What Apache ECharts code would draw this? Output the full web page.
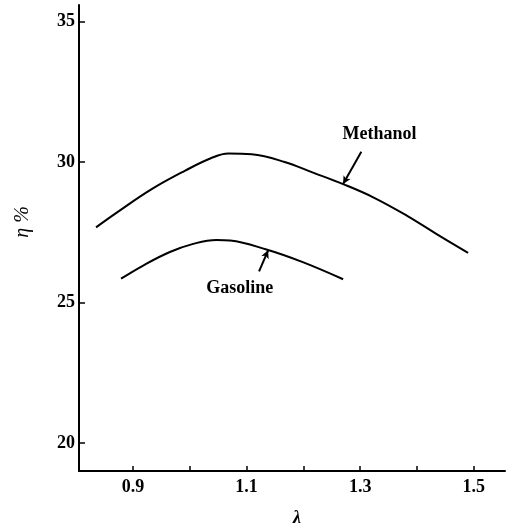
<!DOCTYPE html>
<html>
<head>
<meta charset="utf-8">
<script src="https://cdn.jsdelivr.net/npm/echarts@6/dist/echarts.min.js"></script>
<style>
html,body{margin:0;padding:0;background:#fff;}
#c{width:512px;height:532px;}
</style>
</head>
<body>
<div id="c"></div>
<script>
// Data
const methanolX = [0.835, 0.874, 0.933, 0.992, 1.038, 1.068, 1.109, 1.167, 1.217, 1.270, 1.323, 1.382, 1.434, 1.490];
const methanolY = [27.68, 28.24, 29.04, 29.70, 30.15, 30.31, 30.28, 30.01, 29.63, 29.22, 28.75, 28.10, 27.45, 26.77];
const gasolineX = [0.879, 0.918, 0.965, 1.006, 1.047, 1.071, 1.135, 1.199, 1.270];
const gasolineY = [25.85, 26.32, 26.80, 27.09, 27.23, 27.21, 26.89, 26.44, 25.83];
const xTicks = [0.9, 1.0, 1.1, 1.2, 1.3, 1.4, 1.5];
const xTickLabels = [0.9, 1.1, 1.3, 1.5];
const yTicks = [20, 25, 30, 35];
const yTickLabels = [20, 25, 30, 35];
const seriesNames = ['Methanol', 'Gasoline'];
// annotation anchors (data coordinates): text position, arrow start, arrow end on curve
const methanolNote = { text: [1.334, 31.0], from: [1.302, 30.37], to: [1.270, 29.22] };
const gasolineNote = { text: [1.088, 25.50], from: [1.122, 26.11], to: [1.138, 26.86] };

const zip = (xs, ys) => xs.map((x, i) => [x, ys[i]]);
const serif = '"Liberation Serif", "DejaVu Serif", serif';

function noteSeries(name, xs, ys, note) {
  return {
    name: name,
    type: 'line',
    data: zip(xs, ys),
    smooth: 0.4,
    showSymbol: false,
    symbol: 'none',
    lineStyle: { color: '#000', width: 2 },
    markLine: {
      silent: true,
      symbol: ['none', 'arrow'],
      symbolSize: [6, 8],
      label: { show: false },
      lineStyle: { color: '#000', width: 2, type: 'solid' },
      data: [[{ coord: note.from }, { coord: note.to }]]
    },
    markPoint: {
      silent: true,
      symbol: 'circle',
      symbolSize: 1,
      itemStyle: { color: 'rgba(0,0,0,0)' },
      label: {
        show: true, position: 'inside', formatter: name,
        color: '#000', fontFamily: serif, fontSize: 18, fontWeight: 'bold'
      },
      data: [{ coord: note.text }]
    }
  };
}

const chart = echarts.init(document.getElementById('c'));
chart.setOption({
  animation: false,
  backgroundColor: '#fff',
  grid: { left: 79, right: 7, top: 5, bottom: 58, containLabel: false },
  xAxis: {
    type: 'value',
    min: 0.805, max: 1.555,
    name: 'λ',
    nameLocation: 'middle',
    nameGap: 38,
    nameTextStyle: { color: '#000', fontFamily: serif, fontSize: 18, fontStyle: 'italic', fontWeight: 'bold', padding: [0, 0, 0, 10] },
    axisLine: { show: true, onZero: false, lineStyle: { color: '#000', width: 2 } },
    axisTick: { show: true, inside: true, length: 5, lineStyle: { color: '#000', width: 1.5 }, customValues: xTicks },
    axisLabel: {
      show: true, margin: 7, color: '#000', fontFamily: serif, fontSize: 18, fontWeight: 'bold',
      customValues: xTickLabels,
      formatter: v => (Math.round(v * 10) / 10).toFixed(1)
    },
    splitLine: { show: false }
  },
  yAxis: {
    type: 'value',
    min: 19, max: 35.6,
    axisLine: { show: true, onZero: false, lineStyle: { color: '#000', width: 2 } },
    axisTick: { show: true, inside: true, length: 6, lineStyle: { color: '#000', width: 1.5 }, customValues: yTicks },
    axisLabel: {
      show: true, margin: 4, color: '#000', fontFamily: serif, fontSize: 18, fontWeight: 'bold',
      customValues: yTickLabels
    },
    splitLine: { show: false }
  },
  graphic: [{
    type: 'text',
    x: 23, y: 222,
    rotation: Math.PI / 2,
    style: {
      text: 'η %',
      font: 'italic 20px ' + serif,
      fill: '#000',
      align: 'center',
      verticalAlign: 'middle'
    }
  }],
  series: [
    noteSeries(seriesNames[0], methanolX, methanolY, methanolNote),
    noteSeries(seriesNames[1], gasolineX, gasolineY, gasolineNote)
  ]
});
</script>
</body>
</html>
